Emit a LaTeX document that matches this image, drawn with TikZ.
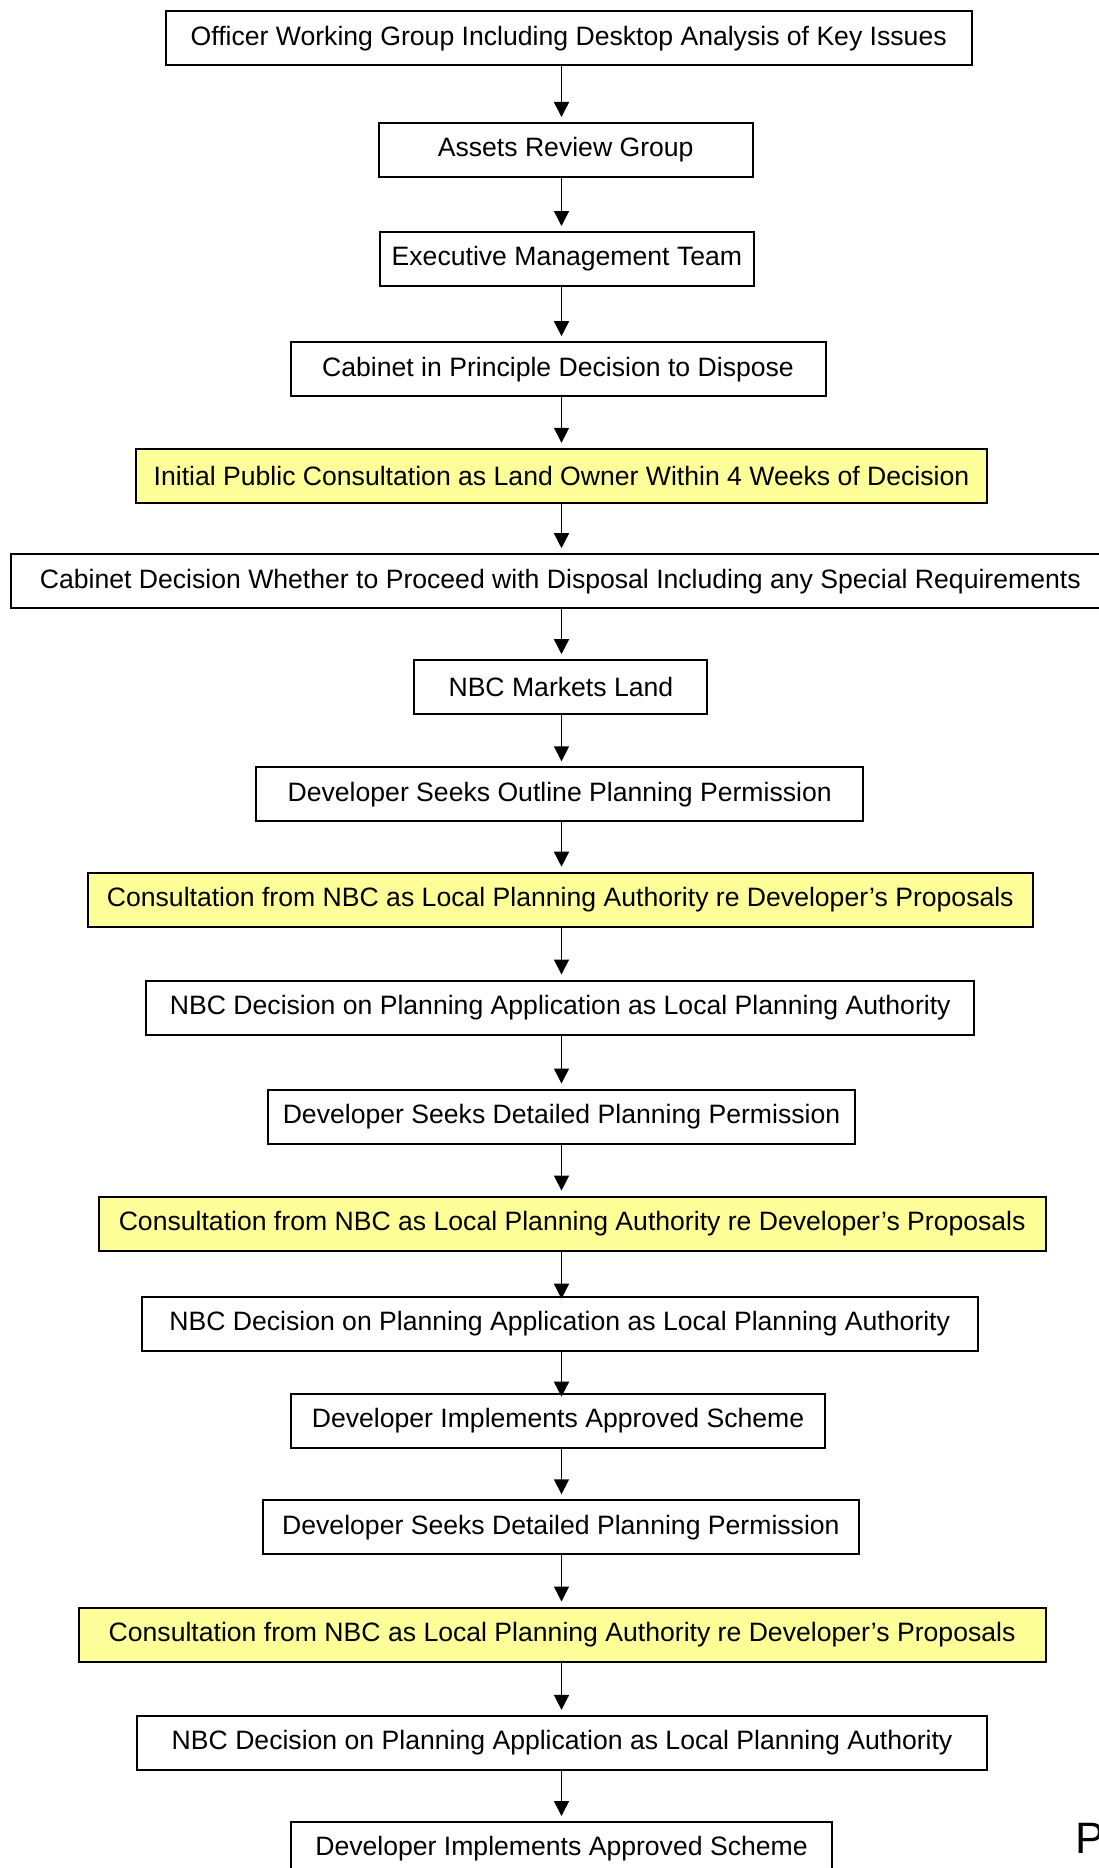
\documentclass[tikz,border=0pt]{standalone}
\usepackage{fontspec}
\setmainfont{Liberation Sans}
\usetikzlibrary{arrows.meta}
\definecolor{notepad}{HTML}{FFFF99}

\begin{document}
\begin{tikzpicture}[x=0.5pt, y=-0.5pt,
		stage/.style={draw, line width=1pt, rectangle, inner sep=0pt, outer sep=0pt, minimum height=27pt, font=\fontsize{13.3}{15}\selectfont},
		consult/.style={stage, fill=notepad},
		flow/.style={-{Triangle[length=7.5pt, width=7.5pt]}, line width=0.75pt, shorten >=3pt}]
		
		% page is measured in pixels of the scanned chart
		\fill [white] (0,0) rectangle (1098,1868);
		\useasboundingbox (0,0) rectangle (1098,1868);
		
		\coordinate (ax) at (561.5,0);
		
		\node at (568.7,38.5) [stage, minimum width=403pt] (officer) {Officer Working Group Including Desktop Analysis of Key Issues};
		\node at (565.7,150) [stage, minimum width=187pt] (assets) {Assets Review Group};
		\node at (566.9,259) [stage, minimum width=187pt] (emt) {Executive Management Team};
		\node at (558,369.2) [stage, minimum width=267.5pt] (cabprin) {Cabinet in Principle Decision to Dispose};
		\node at (561.5,475.8) [consult, minimum width=425.8pt] (initcons) {Initial Public Consultation as Land Owner Within 4 Weeks of Decision};
		\node at (560.3,581.2) [stage, minimum width=549.7pt] (cabdec) {Cabinet Decision Whether to Proceed with Disposal Including any Special Requirements};
		\node at (560.9,687.2) [stage, minimum width=146.5pt] (market) {NBC Markets Land};
		\node at (559.7,794.3) [stage, minimum width=303.7pt] (outline) {Developer Seeks Outline Planning Permission};
		\node at (560.3,899.7) [consult, minimum width=472.2pt] (consA) {Consultation from NBC as Local Planning Authority re Developer’s Proposals};
		\node at (560.3,1007.5) [stage, minimum width=413.9pt] (decA) {NBC Decision on Planning Application as Local Planning Authority};
		\node at (561.5,1116.5) [stage, minimum width=293.5pt] (detailA) {Developer Seeks Detailed Planning Permission};
		\node at (572.2,1223.6) [consult, minimum width=473.4pt] (consB) {Consultation from NBC as Local Planning Authority re Developer’s Proposals};
		\node at (559.7,1323.7) [stage, minimum width=418pt] (decB) {NBC Decision on Planning Application as Local Planning Authority};
		\node at (558,1420.7) [stage, minimum width=267.4pt] (implA) {Developer Implements Approved Scheme};
		\node at (560.9,1527.3) [stage, minimum width=297.7pt] (detailB) {Developer Seeks Detailed Planning Permission};
		\node at (562.1,1634.5) [consult, minimum width=483.5pt] (consC) {Consultation from NBC as Local Planning Authority re Developer’s Proposals};
		\node at (562.1,1742.9) [stage, minimum width=425.2pt] (decC) {NBC Decision on Planning Application as Local Planning Authority};
		\node at (561.5,1849) [stage, minimum width=270.9pt] (implB) {Developer Implements Approved Scheme};
		
		% stray page letter cut off at the corner
		\node at (1075,1853) [anchor=base west, inner sep=0pt, font=\fontsize{22}{26}\selectfont] (pageP) {P};
		
		\draw [flow] (officer.south -| ax) -- (assets.north -| ax);
		\draw [flow] (assets.south -| ax) -- (emt.north -| ax);
		\draw [flow] (emt.south -| ax) -- (cabprin.north -| ax);
		\draw [flow] (cabprin.south -| ax) -- (initcons.north -| ax);
		\draw [flow] (initcons.south -| ax) -- (cabdec.north -| ax);
		\draw [flow] (cabdec.south -| ax) -- (market.north -| ax);
		\draw [flow] (market.south -| ax) -- (outline.north -| ax);
		\draw [flow] (outline.south -| ax) -- (consA.north -| ax);
		\draw [flow] (consA.south -| ax) -- (decA.north -| ax);
		\draw [flow] (decA.south -| ax) -- (detailA.north -| ax);
		\draw [flow] (detailA.south -| ax) -- (consB.north -| ax);
		\draw [flow, shorten >=-1pt] (consB.south -| ax) -- (decB.north -| ax);
		\draw [flow, shorten >=-1.5pt] (decB.south -| ax) -- (implA.north -| ax);
		\draw [flow] (implA.south -| ax) -- (detailB.north -| ax);
		\draw [flow] (detailB.south -| ax) -- (consC.north -| ax);
		\draw [flow] (consC.south -| ax) -- (decC.north -| ax);
		\draw [flow] (decC.south -| ax) -- (implB.north -| ax);
		
\end{tikzpicture}
\end{document}
